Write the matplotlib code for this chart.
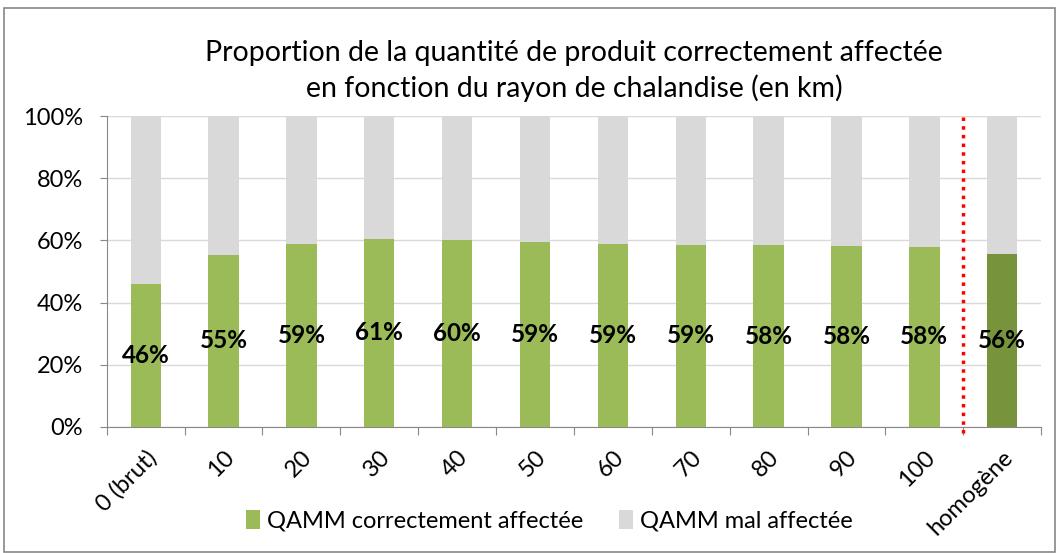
import matplotlib.pyplot as plt
from matplotlib.patches import Rectangle

plt.rcParams['font.family'] = ['Lato', 'DejaVu Sans']

categories = ["0 (brut)", "10", "20", "30", "40", "50", "60", "70", "80", "90", "100", "homogène"]
correct = [0.46, 0.554, 0.59, 0.606, 0.602, 0.594, 0.59, 0.586, 0.584, 0.581, 0.58, 0.557]
wrong = [1 - v for v in correct]

green = "#9BBB59"
dark_green = "#77933C"
grey = "#D9D9D9"

fig = plt.figure(figsize=(10.57, 5.53), dpi=100)
ax = fig.add_axes([0.101, 0.228, 0.884, 0.562])

x = list(range(len(categories)))
colors = [green] * (len(categories) - 1) + [dark_green]
ax.bar(x, correct, width=0.39, color=colors, zorder=2, label="QAMM correctement affectée")
ax.bar(x, wrong, width=0.39, bottom=correct, color=grey, zorder=2, label="QAMM mal affectée")

for xi, v in zip(x, correct):
    ax.text(xi, v / 2, f"{round(v * 100):.0f}%", ha="center", va="center",
            fontsize=17.5, fontweight="bold", zorder=3)

ax.set_xlim(-0.5, len(categories) - 0.5)
ax.set_ylim(0, 1)
ax.set_yticks([0, 0.2, 0.4, 0.6, 0.8, 1.0])
ax.set_yticklabels(["0%", "20%", "40%", "60%", "80%", "100%"], fontsize=17)
ax.yaxis.grid(True, color="#D9D9D9", linewidth=1, zorder=0)

ax.set_xticks([i + 0.5 for i in range(-1, len(categories))])
ax.set_xticklabels([])
ax.set_xticks(x, minor=True)
ax.set_xticklabels(categories, minor=True, rotation=45, ha="right", va="top",
                   fontsize=17, rotation_mode="anchor")
ax.tick_params(axis="x", which="minor", length=0, pad=14)
ax.tick_params(axis="x", which="major", length=6, color="#888888", direction="out")
ax.tick_params(axis="y", length=5, color="#888888", pad=12)

for s in ["top", "right"]:
    ax.spines[s].set_visible(False)
for s in ["left", "bottom"]:
    ax.spines[s].set_color("#888888")

ax.axvline(len(categories) - 1.5, ymin=-0.02, ymax=1.01, color="red", linestyle=(0, (1, 1.5)),
           linewidth=2.5, clip_on=False, zorder=4)

ax.set_title("Proportion de la quantité de produit correctement affectée\nen fonction du rayon de chalandise (en km)",
             fontsize=20.5, linespacing=1.35, pad=14)

fig.legend(loc="lower center", bbox_to_anchor=(0.52, 0.0), ncol=2, frameon=False,
           fontsize=17, handlelength=0.6, handleheight=0.9, handletextpad=0.3, columnspacing=1.5)

fig.patches.append(Rectangle((0.004, 0.002), 0.994, 0.983, transform=fig.transFigure,
                             fill=False, edgecolor="#888888", linewidth=1.2))

fig.savefig("out.png", dpi=100)
